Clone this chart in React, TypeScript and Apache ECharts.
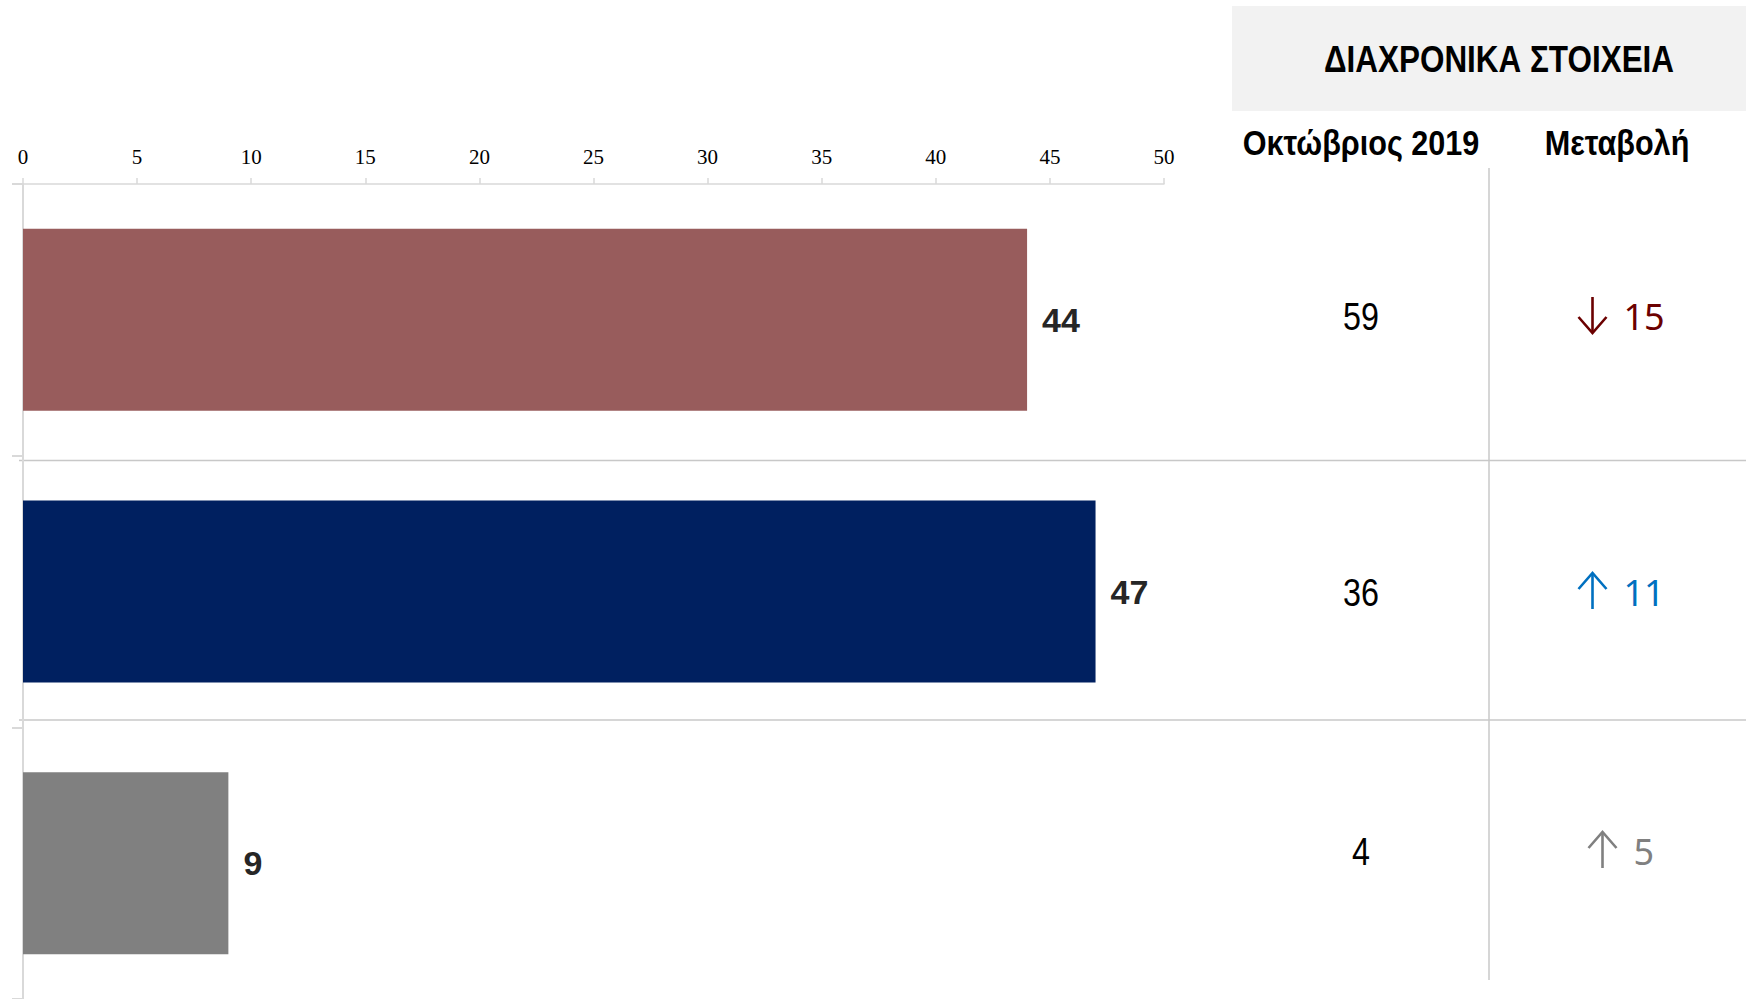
import React, { useEffect, useRef } from "react";
import * as echarts from "echarts";

// ---- data ----
const categories = ["Κατηγορία Α", "Κατηγορία Β", "Κατηγορία Γ"];
const currentValues = [44, 47, 9];
const barColors = ["#985C5C", "#002060", "#808080"];
const oct2019Values = [59, 36, 4];
const changeValues = [-15, 11, 5];
const changeColors = ["#6B0000", "#0070C0", "#808080"];
const xTicks = { min: 0, max: 50, interval: 5 };
const titleText = "ΔΙΑΧΡΟΝΙΚΑ ΣΤΟΙΧΕΙΑ";
const colHeaders = ["Οκτώβριος 2019", "Μεταβολή"];

// ---- layout ----
const W = 1752;
const H = 999;
const rowY = [317, 593, 852];
const sans = "'Liberation Sans', Arial, sans-serif";
const NARROW = 0.85;

export default function App() {
  const ref = useRef<HTMLDivElement>(null);

  useEffect(() => {
    document.body.style.margin = "0";
    if (!ref.current) return;
    const chart = echarts.init(ref.current, null, { renderer: "svg" });

    const narrowText = (x: number, y: number, text: string, font: string, fill = "#000") => ({
      type: "text",
      x,
      y,
      scaleX: NARROW,
      style: { text, font, fill, align: "center", verticalAlign: "middle" },
    });

    const graphics: any[] = [
      {
        type: "rect",
        shape: { x: 1232, y: 6, width: 514, height: 105 },
        style: { fill: "#F2F2F2" },
        z: 0,
      },
      narrowText(1499, 59, titleText, `bold 37px ${sans}`),
      narrowText(1361, 143, colHeaders[0], `bold 36px ${sans}`),
      narrowText(1617, 143, colHeaders[1], `bold 36px ${sans}`),
      {
        type: "line",
        shape: { x1: 1489, y1: 168, x2: 1489, y2: 980 },
        style: { stroke: "#C8C8C8", lineWidth: 1.5 },
      },
      {
        type: "line",
        shape: { x1: 19, y1: 460.5, x2: 1746, y2: 460.5 },
        style: { stroke: "#C8C8C8", lineWidth: 1.5 },
      },
      {
        type: "line",
        shape: { x1: 19, y1: 720, x2: 1746, y2: 720 },
        style: { stroke: "#C8C8C8", lineWidth: 1.5 },
      },
    ];

    oct2019Values.forEach((v, i) => {
      graphics.push(narrowText(1361, rowY[i], String(v), `38px ${sans}`));
    });

    changeValues.forEach((v, i) => {
      const txt = String(Math.abs(v));
      const groupW = 47 + 20 * txt.length;
      const left = 1619 - groupW / 2;
      const ax = left + 17;
      const cy = rowY[i] - 2;
      const color = changeColors[i];
      const up = v >= 0;
      const tipY = up ? cy - 18 : cy + 18;
      const tailY = up ? cy + 18 : cy - 18;
      const armY = up ? tipY + 16 : tipY - 16;
      graphics.push({
        type: "line",
        shape: { x1: ax, y1: tailY, x2: ax, y2: tipY },
        style: { stroke: color, lineWidth: 2.6 },
      });
      graphics.push({
        type: "polyline",
        shape: { points: [[ax - 14, armY], [ax, tipY], [ax + 14, armY]] },
        style: { stroke: color, lineWidth: 2.6, fill: null },
      });
      graphics.push({
        type: "text",
        x: ax + 31,
        y: cy + 1,
        style: {
          text: txt,
          font: `36px 'Noto Sans', 'Open Sans', sans-serif`,
          fill: color,
          align: "left",
          verticalAlign: "middle",
        },
      });
    });

    chart.setOption({
      animation: false,
      backgroundColor: "#FFFFFF",
      grid: { left: 23, top: 184, width: 1141, height: 816, containLabel: false },
      xAxis: {
        type: "value",
        position: "top",
        min: xTicks.min,
        max: xTicks.max,
        interval: xTicks.interval,
        axisLine: { show: true, lineStyle: { color: "#D9D9D9", width: 1.5 } },
        axisTick: { show: true, length: 6, lineStyle: { color: "#D9D9D9", width: 1.5 } },
        splitLine: { show: false },
        axisLabel: {
          color: "#000",
          fontFamily: "'Liberation Serif', 'DejaVu Serif', serif",
          fontSize: 21,
          margin: 17,
        },
      },
      yAxis: {
        type: "category",
        inverse: true,
        data: categories,
        axisLine: { show: true, lineStyle: { color: "#D9D9D9", width: 2 } },
        axisTick: { show: true, length: 11, lineStyle: { color: "#D9D9D9", width: 2 } },
        axisLabel: { show: false },
        splitLine: { show: false },
      },
      series: [
        {
          type: "bar",
          barCategoryGap: "33%",
          data: currentValues.map((v, i) => ({ value: v, itemStyle: { color: barColors[i] } })),
          label: {
            show: true,
            position: "right",
            distance: 15,
            color: "#262626",
            fontFamily: sans,
            fontWeight: "bold",
            fontSize: 34,
          },
        },
      ],
      graphic: graphics,
    });

    return () => chart.dispose();
  }, []);

  return <div ref={ref} style={{ width: W, height: H }} />;
}
